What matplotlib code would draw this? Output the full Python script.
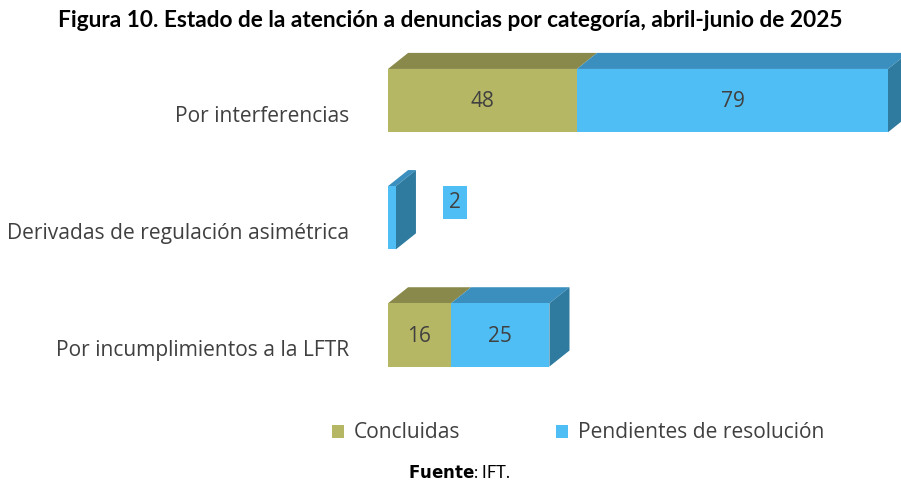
import matplotlib.pyplot as plt
import matplotlib.transforms as mtransforms
from matplotlib.patches import Polygon, Patch

# Data
categories = ['Por interferencias', 'Derivadas de regulación asimétrica',
              'Por incumplimientos a la LFTR']
concluidas = [48, 0, 16]
pendientes = [79, 2, 25]

# Colors (front, top, side)
olive = '#B5B764'
olive_top = '#8A894C'
cyan = '#4FBEF5'
cyan_top = '#3A8FBF'
cyan_side = '#2F7BA0'
text_gray = '#404040'

plt.rcParams['font.family'] = ['Open Sans', 'DejaVu Sans']

fig = plt.figure(figsize=(9.01, 4.83), dpi=100)
ax = fig.add_axes([388 / 901, (483 - 393.5) / 483, 500 / 901, 351.5 / 483])

bar_h = 0.54
dx = 5.1     # depth offset in x units
dy = 0.137   # depth offset in y units (upwards)

ypos = list(range(len(categories)))

for y, c, p in zip(ypos, concluidas, pendientes):
    top = y - bar_h / 2
    segs = [(0, c, olive, olive_top), (c, c + p, cyan, cyan_top)]
    for x0, x1, front, topc in segs:
        if x1 - x0 <= 0:
            continue
        ax.barh(y, x1 - x0, left=x0, height=bar_h, color=front, edgecolor='none', zorder=2)
        ax.add_patch(Polygon([(x0, top), (x1, top), (x1 + dx, top - dy), (x0 + dx, top - dy)],
                             closed=True, facecolor=topc, edgecolor='none', clip_on=False, zorder=1))
    total = c + p
    ax.add_patch(Polygon([(total, top), (total + dx, top - dy), (total + dx, top - dy + bar_h),
                          (total, top + bar_h)],
                         closed=True, facecolor=cyan_side, edgecolor='none', clip_on=False, zorder=1))
    # value labels
    for x0, v in [(0, c), (c, p)]:
        if v <= 0:
            continue
        if v >= 8:
            ax.text(x0 + v / 2, y + 0.01, str(v), ha='center', va='center', fontsize=15,
                    color=text_gray, zorder=3)
        else:
            ax.text(x0 + v + 15, y - 0.13, str(v), ha='center', va='center', fontsize=15,
                    color=text_gray, zorder=3,
                    bbox=dict(boxstyle='square,pad=0.28', facecolor=cyan, edgecolor='none'))

ax.set_xlim(0, 127)
ax.set_ylim(len(categories) - 0.5, -0.5)
ax.set_yticks(ypos)
ax.set_yticklabels(categories, fontsize=15.1, color=text_gray)
ax.tick_params(axis='y', length=0, pad=28)
ax.set_xticks([])
for s in ax.spines.values():
    s.set_visible(False)

# category labels sit a bit lower than the bar fronts
shift = mtransforms.ScaledTranslation(0, -13 / 100, fig.dpi_scale_trans)
for lbl in ax.get_yticklabels():
    lbl.set_transform(lbl.get_transform() + shift)

fig.text(0.5, 0.958, 'Figura 10. Estado de la atención a denuncias por categoría, abril-junio de 2025',
         ha='center', va='center', fontsize=16.3, fontweight='bold', color='black',
         family=['Lato', 'DejaVu Sans'])

handles = [Patch(facecolor=olive, edgecolor='none'), Patch(facecolor=cyan, edgecolor='none')]
fig.legend(handles, ['Concluidas', 'Pendientes de resolución'], loc='center',
           bbox_to_anchor=(578 / 901, 1 - 433 / 483), ncol=2, frameon=False,
           fontsize=15.1, labelcolor=text_gray, handlelength=0.57, handleheight=0.57,
           handletextpad=0.45, columnspacing=4.6)

fig.text(459 / 901, 1 - 472 / 483, r'$\mathbf{Fuente}$: IFT.', ha='center', va='center',
         fontsize=12, color='black', family=['Lato', 'DejaVu Sans'])

fig.savefig('out.png', dpi=100)
